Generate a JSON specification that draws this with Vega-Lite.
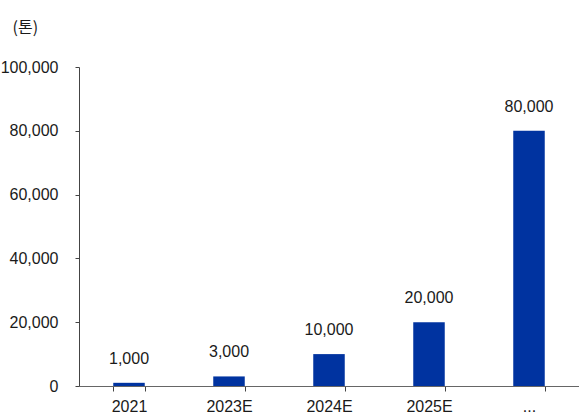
{
  "$schema": "https://vega.github.io/schema/vega-lite/v6.json",
  "width": 500,
  "height": 319,
  "autosize": "none",
  "padding": {"left": 79, "top": 67, "right": 0, "bottom": 31},
  "background": "white",
  "config": {
    "view": {"stroke": null},
    "font": "Liberation Sans, Arial, sans-serif"
  },
  "data": {
    "values": [
      {"year": "2021", "value": 1000},
      {"year": "2023E", "value": 3000},
      {"year": "2024E", "value": 10000},
      {"year": "2025E", "value": 20000},
      {"year": "...", "value": 80000}
    ]
  },
  "encoding": {
    "x": {
      "field": "year",
      "type": "nominal",
      "sort": null,
      "scale": {"paddingInner": 0.685, "paddingOuter": 0.3425},
      "axis": {
        "title": null,
        "labelAngle": 0,
        "tickBand": "extent",
        "tickSize": 5,
        "tickColor": "#444",
        "domainColor": "#666",
        "labelFontSize": 16,
        "labelColor": "#1a1a1a",
        "labelPadding": 7
      }
    },
    "y": {
      "field": "value",
      "type": "quantitative",
      "scale": {"domain": [0, 100000], "nice": false},
      "axis": {
        "title": "(톤)",
        "titleAngle": 0,
        "titleAlign": "left",
        "titleBaseline": "middle",
        "titleX": -67,
        "titleY": -40,
        "titleFont": "Noto Sans CJK KR",
        "titleFontSize": 16,
        "titleFontWeight": "normal",
        "titleColor": "#1a1a1a",
        "values": [0, 20000, 40000, 60000, 80000, 100000],
        "format": ",d",
        "grid": false,
        "tickSize": 4,
        "tickColor": "#444",
        "domainColor": "#444",
        "labelFontSize": 16,
        "labelColor": "#1a1a1a",
        "labelPadding": 17
      }
    }
  },
  "layer": [
    {"mark": {"type": "bar", "color": "#0033a0"}},
    {
      "mark": {
        "type": "text",
        "baseline": "alphabetic",
        "dy": -19,
        "fontSize": 16,
        "color": "#1a1a1a"
      },
      "encoding": {"text": {"field": "value", "type": "quantitative", "format": ",d"}}
    }
  ]
}
